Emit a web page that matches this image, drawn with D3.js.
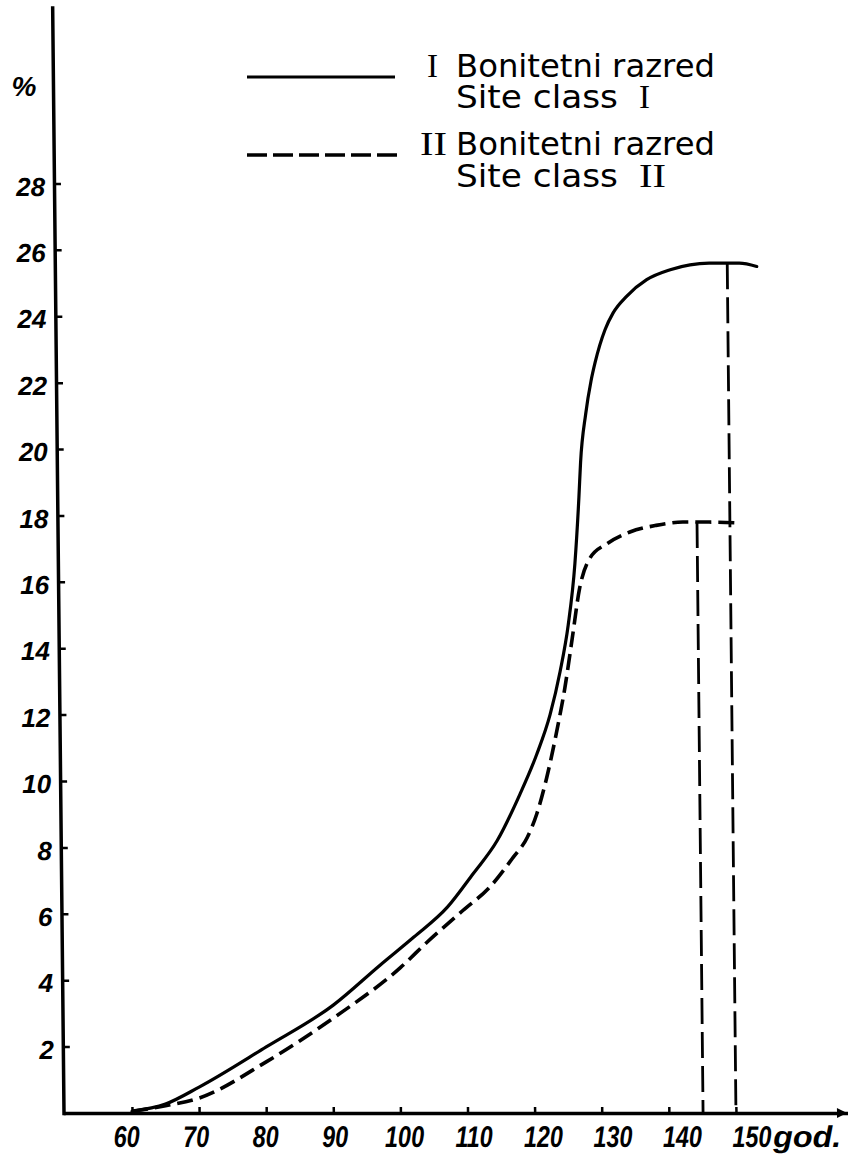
<!DOCTYPE html>
<html>
<head>
<meta charset="utf-8">
<script src="https://cdn.jsdelivr.net/npm/d3@7"></script>
<style>
  html, body { margin: 0; padding: 0; background: #fff; }
  svg { display: block; }
</style>
</head>
<body>
<script>
// ---------------- DATA ----------------
const xTicks = [60, 70, 80, 90, 100, 110, 120, 130, 140, 150];
const yTicks = [2, 4, 6, 8, 10, 12, 14, 16, 18, 20, 22, 24, 26, 28];
const xUnit = "god.";
const yUnit = "%";

// Site class I (solid)
const ageI = [60, 65, 70.04, 80.1, 90.16, 97.23, 102.27, 107.31, 111.17, 114.82, 118.29, 120.85, 122.91, 124.47,
              125.75, 126.84, 127.54, 127.84, 128.67, 129.52, 130.15, 131.7, 132.92, 134.95, 137.97, 141.49,
              147.3, 151.8, 154.39];
const pctI = [0.05, 0.27, 0.78, 1.99, 3.25, 4.46, 5.3, 6.2, 7.2, 8.2, 9.6, 10.8, 12.0, 13.3,
              14.7, 16.55, 18.55, 19.6, 21.05, 22.05, 22.6, 23.6, 24.1, 24.6, 25.1, 25.4,
              25.6, 25.6, 25.5];

// Site class II (dashed)
const ageII = [60, 65, 70.02, 80.08, 90.15, 100.22, 104.26, 109.61, 113.64, 117.19, 119.32, 120.76, 122.31,
               123.88, 125.15, 126.33, 127.5, 129.05, 131.67, 135.09, 139.0, 143.0, 146.9, 151.5];
const pctII = [0.05, 0.22, 0.45, 1.54, 2.86, 4.38, 5.15, 6.1, 6.8, 7.7, 8.3, 9.0, 10.1,
               11.5, 12.8, 14.3, 15.8, 16.7, 17.15, 17.5, 17.7, 17.8, 17.8, 17.77];

// Vertical marker lines (age, top value)
const markerAges = [145.1, 150];
const markerTops = [17.8, 25.6];

const legendLabels = [
  { num: "I",  title: "Bonitetni razred", sub: "Site class", subNum: "I"  },
  { num: "II", title: "Bonitetni razred", sub: "Site class", subNum: "II" }
];

// ---------------- CHART ----------------
const W = 848, H = 1156;
const svg = d3.select("body").append("svg").attr("width", W).attr("height", H)
  .style("background", "#fff");

const x = d3.scaleLinear().domain([50, 166.4]).range([64.9, 846]);
const y = d3.scaleLinear().domain([0, 33.3]).range([1113, 7.5]);

const shear = 0.01025;
const g = svg.append("g")
  .attr("transform", `translate(${-shear * y(0)},0) skewX(${Math.atan(shear) * 180 / Math.PI})`);

const numFont = "'Liberation Sans', 'DejaVu Sans', sans-serif";

// X axis
const xAxis = g.append("g").attr("transform", `translate(0,${y(0)})`)
  .call(d3.axisBottom(x).tickValues(xTicks).tickSizeInner(-6).tickSizeOuter(0).tickFormat(d3.format("d")));
xAxis.select(".domain").attr("stroke", "#000").attr("stroke-width", 3.5).attr("stroke-linecap", "square");
xAxis.selectAll(".tick line").attr("stroke", "#000").attr("stroke-width", 2.5);
xAxis.selectAll(".tick text")
  .attr("y", 34).attr("dy", 0)
  .attr("x", d => (0.035 * (x(d) - x(90)) + 1) / 0.78)
  .attr("transform", "scale(0.78,1)")
  .attr("fill", "#000")
  .style("font-family", numFont).style("font-size", "30px")
  .style("font-weight", "bold").style("font-style", "italic");

// arrow head
const xe = x.range()[1];
g.append("path")
  .attr("d", `M${xe - 9},${y(0) - 5}L${xe + 1},${y(0)}L${xe - 9},${y(0) + 5}Z`)
  .attr("fill", "#000");

// unit label
g.append("text")
  .attr("x", x(150) + 37).attr("y", y(0) + 34)
  .attr("textLength", 68).attr("lengthAdjust", "spacingAndGlyphs")
  .style("font-family", numFont).style("font-size", "30px")
  .style("font-weight", "bold").style("font-style", "italic")
  .text(xUnit);

// Y axis
const yAxis = g.append("g").attr("transform", `translate(${x(50) - 1.4},0)`)
  .call(d3.axisLeft(y).tickValues(yTicks).tickSizeInner(-7).tickSizeOuter(0).tickPadding(9).tickFormat(d3.format("d")));
yAxis.select(".domain").attr("stroke", "#000").attr("stroke-width", 3.5).attr("stroke-linecap", "square");
yAxis.selectAll(".tick line").attr("stroke", "#000").attr("stroke-width", 2.5);
yAxis.selectAll(".tick text")
  .attr("dy", "0.45em")
  .attr("fill", "#000")
  .style("font-family", numFont).style("font-size", "26px")
  .style("font-weight", "bold").style("font-style", "italic");

// % label
svg.append("text")
  .attr("x", 24).attr("y", 96).attr("text-anchor", "middle")
  .style("font-family", numFont).style("font-size", "28px")
  .style("font-weight", "bold").style("font-style", "italic")
  .text(yUnit);

// Curves
const line = d3.line().x(d => x(d[0])).y(d => y(d[1])).curve(d3.curveMonotoneX);
const dataI = ageI.map((a, i) => [a, pctI[i]]);
const dataII = ageII.map((a, i) => [a, pctII[i]]);

g.append("path").datum(dataI).attr("d", line)
  .attr("fill", "none").attr("stroke", "#000").attr("stroke-width", 3.2)
  .attr("stroke-linecap", "round");
g.append("path").datum(dataII).attr("d", line)
  .attr("fill", "none").attr("stroke", "#000").attr("stroke-width", 3.6)
  .attr("stroke-dasharray", "16,7");

// Vertical markers
g.selectAll(".marker").data(markerAges.map((a, i) => [a, markerTops[i]])).join("line")
  .attr("class", "marker")
  .attr("x1", d => x(d[0])).attr("x2", d => x(d[0]))
  .attr("y1", d => y(d[1])).attr("y2", y(0))
  .attr("stroke", "#000").attr("stroke-width", 2.8)
  .attr("stroke-dasharray", "26,8");

// Legend
const legendFont = "'DejaVu Sans', 'Liberation Sans', sans-serif";
const serifFont = "'Liberation Serif', 'DejaVu Serif', serif";
const lg = svg.append("g");
const rows = [
  { y1: 77, y2: 108, dash: null, lineEnd: 395, numX: 427, numW: 11 },
  { y1: 155, y2: 187, dash: "20,6", lineEnd: 397, numX: 420, numW: 27 }
];
const vScale = 1.25;
function legendText(xp, yp, len, fam, size, str) {
  lg.append("text")
    .attr("transform", `translate(${xp},${yp}) scale(1,${vScale})`)
    .attr("x", 0).attr("y", 0)
    .attr("textLength", len).attr("lengthAdjust", "spacingAndGlyphs")
    .style("font-family", fam).style("font-size", size + "px").text(str);
}
legendLabels.forEach((L, i) => {
  const r = rows[i];
  lg.append("line").attr("x1", 247).attr("x2", r.lineEnd).attr("y1", r.y1).attr("y2", r.y1)
    .attr("stroke", "#000").attr("stroke-width", i === 0 ? 3 : 3.5)
    .attr("stroke-dasharray", r.dash);
  legendText(r.numX, r.y1, r.numW, serifFont, 27, L.num);
  legendText(456, r.y1, 259, legendFont, 26, L.title);
  legendText(456, r.y2, 162, legendFont, 26, L.sub);
  legendText(639, r.y2, r.numW, serifFont, 27, L.subNum);
});
</script>
</body>
</html>
